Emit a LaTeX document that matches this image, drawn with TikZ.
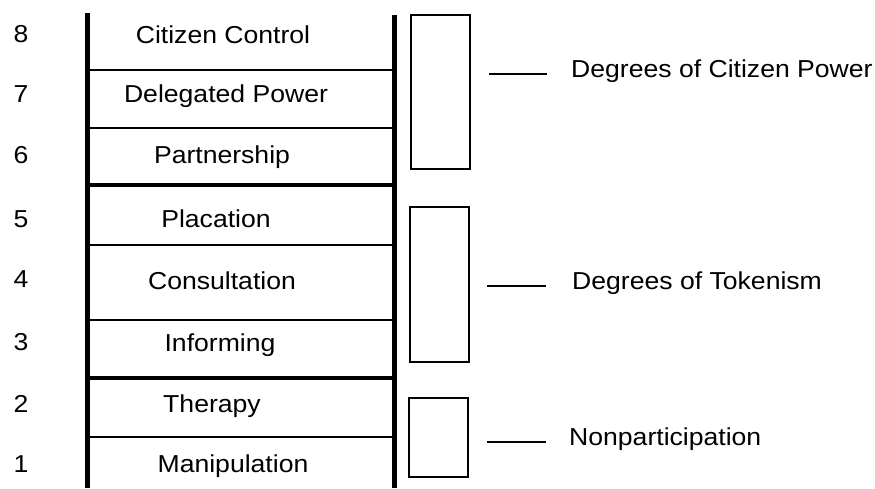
\documentclass[tikz,border=0pt]{standalone}
\usepackage{fontspec}
\setmainfont[FakeStretch=1.085]{Liberation Sans}

\tikzset{
  txt/.style={font=\fontsize{24.5}{29}\selectfont, inner sep=0pt, anchor=base},
  rail/.style={line width=5pt},
  rung/.style={line width=1.8pt},
  thickrung/.style={line width=4pt},
  groupbox/.style={draw, line width=1.8pt, minimum width=59pt, inner sep=0pt},
  tie/.style={line width=1.8pt}
}

\begin{document}
\begin{tikzpicture}[x=1pt, y=-1pt]
  \useasboundingbox (0,0) rectangle (875,488);

  \draw[rail] (87.5,13) -- (87.5,488);
  \draw[rail] (394,15) -- (394,488);
  \foreach \y in {70,128,245,320,437}
    \draw[rung] (87.5,\y) -- (394,\y);
  \foreach \y in {185,378}
    \draw[thickrung] (87.5,\y) -- (394,\y);

  \node[txt] (n8) at (21,42) {8};
  \node[txt] (n7) at (21,102) {7};
  \node[txt] (n6) at (21,163) {6};
  \node[txt] (n5) at (21,227) {5};
  \node[txt] (n4) at (21,287) {4};
  \node[txt] (n3) at (21,350) {3};
  \node[txt] (n2) at (21,412) {2};
  \node[txt] (n1) at (21,472) {1};

  \node[txt] (control) at (223,43) {Citizen Control};
  \node[txt] (delegated) at (226,102) {Delegated Power};
  \node[txt] (partner) at (222,163) {Partnership};
  \node[txt] (placation) at (216,227) {Placation};
  \node[txt] (consult) at (222,289) {Consultation};
  \node[txt] (inform) at (220,351) {Informing};
  \node[txt] (therapy) at (212,412) {Therapy};
  \node[txt] (manip) at (233,472) {Manipulation};

  \node[groupbox, minimum height=154pt] (powerbox) at (440.5,92) {};
  \node[groupbox, minimum height=155pt] (tokenbox) at (439.5,284.5) {};
  \node[groupbox, minimum height=79pt] (nonbox) at (438.5,437.5) {};

  \node[txt, anchor=base west] (powerlabel) at (571,77) {Degrees of Citizen Power};
  \node[txt, anchor=base west] (tokenlabel) at (572,289) {Degrees of Tokenism};
  \node[txt, anchor=base west] (nonlabel) at (569,445) {Nonparticipation};

  \draw[tie] ([xshift=18pt]powerbox.east |- powerlabel.mid west) -- ([xshift=-24pt]powerlabel.mid west);
  \draw[tie] ([xshift=17pt]tokenbox.east |- tokenlabel.mid west) -- ([xshift=-26pt]tokenlabel.mid west);
  \draw[tie] ([xshift=18pt]nonbox.east |- nonlabel.mid west) -- ([xshift=-23pt]nonlabel.mid west);
\end{tikzpicture}
\end{document}
